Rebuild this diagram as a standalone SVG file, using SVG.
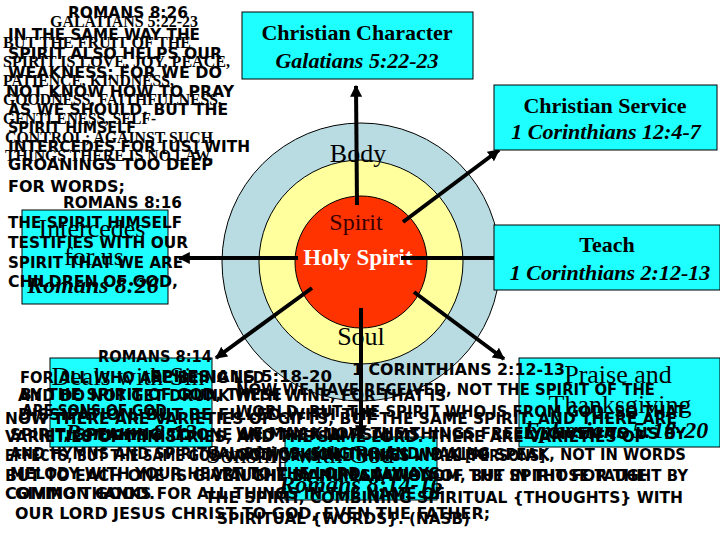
<svg xmlns="http://www.w3.org/2000/svg" width="720" height="540" viewBox="0 0 720 540">
<defs>
<marker id="ah" viewBox="0 0 10 10" refX="9" refY="5" markerWidth="3" markerHeight="3" orient="auto"><path d="M0,0 L10,5 L0,10 z" fill="#000"/></marker>
<style>
.box{fill:#1EFFFF;stroke:#000;stroke-width:1}
.bt{font-family:"Liberation Serif",serif;font-weight:bold;font-size:22px;text-anchor:middle}
.bi{font-family:"Liberation Serif",serif;font-weight:bold;font-style:italic;font-size:22px;text-anchor:middle}
.bs{font-family:"Liberation Serif",serif;font-size:26px;text-anchor:middle}
.bsi{font-family:"Liberation Serif",serif;font-weight:bold;font-style:italic;font-size:24px;text-anchor:middle}
.conn{stroke:#000;stroke-width:4;fill:none}
.cp{font-family:"DejaVu Sans",sans-serif;font-weight:bold;font-size:16px}
.gl{font-family:"Liberation Serif",serif;font-weight:bold;font-size:17px}
.ep{font-family:"DejaVu Sans",sans-serif;font-weight:bold;font-size:15px}
.c12{font-family:"DejaVu Sans",sans-serif;font-weight:bold;font-size:15px}
.c2{font-family:"DejaVu Sans",sans-serif;font-weight:bold;font-size:15px}
</style>
</defs>
<rect width="720" height="540" fill="#fff"/>

<g id="circles">
<circle cx="361" cy="262" r="139" fill="#B8DCE2" stroke="#000" stroke-width="1"/>
<circle cx="361" cy="262" r="102" fill="#FFFF9E" stroke="#000" stroke-width="1"/>
<circle cx="361" cy="262" r="66" fill="#FF3300" stroke="#000" stroke-width="1"/>
<text x="358" y="162" font-family="Liberation Serif, serif" font-size="26" text-anchor="middle">Body</text>
<text x="356" y="230" font-family="Liberation Serif, serif" font-size="24" fill="#3A0000" text-anchor="middle">Spirit</text>
<text x="358" y="265" font-family="Liberation Serif, serif" font-size="23" font-weight="bold" fill="#fff" text-anchor="middle">Holy Spirit</text>
<text x="361" y="345" font-family="Liberation Serif, serif" font-size="26" text-anchor="middle">Soul</text>
</g>

<g id="connectors">
<line class="conn" x1="357" y1="205" x2="356" y2="86" marker-end="url(#ah)"/>
<line class="conn" x1="403" y1="222" x2="499" y2="150" marker-end="url(#ah)"/>
<line class="conn" x1="401" y1="258" x2="495" y2="258"/>
<line class="conn" x1="414" y1="292" x2="504" y2="359" marker-end="url(#ah)"/>
<line class="conn" x1="361" y1="308" x2="361" y2="436" marker-end="url(#ah)"/>
<line class="conn" x1="312" y1="288" x2="216" y2="358" marker-end="url(#ah)"/>
<line class="conn" x1="298" y1="258" x2="179" y2="258" marker-end="url(#ah)"/>
</g>

<g id="character">
<rect x="242" y="12" width="231" height="67" class="box" stroke-width="3"/>
<text x="357" y="40" class="bt">Christian Character</text>
<text x="357" y="68" class="bi">Galatians 5:22-23</text>
</g>
<g id="service">
<rect x="494" y="85" width="223" height="65" class="box"/>
<text x="605" y="113" class="bt">Christian Service</text>
<text x="606" y="139" class="bi">1 Corinthians 12:4-7</text>
</g>
<g id="teach">
<rect x="494" y="225" width="226" height="65" class="box"/>
<text x="607" y="252" class="bt">Teach</text>
<text x="610" y="280" class="bi">1 Corinthians 2:12-13</text>
</g>
<g id="intercedes">
<rect x="22" y="210" width="146" height="94" class="box"/>
<text x="92" y="237" class="bs">Intercedes</text>
<text x="94" y="265" class="bs">for us</text>
<text x="93" y="293" class="bsi">Romans 8:26</text>
</g>
<g id="praise">
<rect x="519" y="358" width="201" height="89" class="box"/>
<text x="618" y="383" class="bs">Praise and</text>
<text x="620" y="413" class="bs">Thanksgiving</text>
<text x="616" y="438" class="bsi">Ephesians 5:18-20</text>
</g>
<g id="sin">
<rect x="50" y="358" width="162" height="89" class="box"/>
<text x="128" y="385" class="bs">Deals with Sin</text>
<text x="131" y="440" class="bsi">Romans 8:13</text>
</g>
<g id="sonship">
<rect x="285" y="437" width="152" height="63" class="box"/>
<text x="300" y="463" class="bs">Sonship with God</text>
<text x="361" y="492" class="bsi">Romans 8:14-16</text>
</g>

<g id="galatians-text">
<text class="gl" x="50" y="27" textLength="148" lengthAdjust="spacingAndGlyphs" font-size="14">GALATIANS 5:22-23</text>
<text class="gl" x="3" y="48" textLength="188" lengthAdjust="spacingAndGlyphs">BUT THE FRUIT OF THE</text>
<text class="gl" x="3" y="67" textLength="227" lengthAdjust="spacingAndGlyphs">SPIRIT IS LOVE, JOY, PEACE,</text>
<text class="gl" x="3" y="86" textLength="171" lengthAdjust="spacingAndGlyphs">PATIENCE, KINDNESS,</text>
<text class="gl" x="3" y="105" textLength="219" lengthAdjust="spacingAndGlyphs">GOODNESS, FAITHFULNESS,</text>
<text class="gl" x="3" y="124" textLength="153" lengthAdjust="spacingAndGlyphs">GENTLENESS, SELF-</text>
<text class="gl" x="5" y="143" textLength="208" lengthAdjust="spacingAndGlyphs">CONTROL; AGAINST SUCH</text>
<text class="gl" x="5" y="161" textLength="208" lengthAdjust="spacingAndGlyphs">THINGS THERE IS NO LAW.</text>
</g>

<g id="romans826-text">
<text class="cp" x="68" y="18" textLength="120" lengthAdjust="spacingAndGlyphs" font-size="14">ROMANS 8:26</text>
<text class="cp" x="8" y="40" textLength="192" lengthAdjust="spacingAndGlyphs">IN THE SAME WAY THE</text>
<text class="cp" x="8" y="59" textLength="214" lengthAdjust="spacingAndGlyphs">SPIRIT ALSO HELPS OUR</text>
<text class="cp" x="8" y="78" textLength="214" lengthAdjust="spacingAndGlyphs">WEAKNESS; FOR WE DO</text>
<text class="cp" x="6" y="97" textLength="228" lengthAdjust="spacingAndGlyphs">NOT KNOW HOW TO PRAY</text>
<text class="cp" x="8" y="115" textLength="220" lengthAdjust="spacingAndGlyphs">AS WE SHOULD, BUT THE</text>
<text class="cp" x="8" y="133" textLength="128" lengthAdjust="spacingAndGlyphs">SPIRIT HIMSELF</text>
<text class="cp" x="8" y="152" textLength="242" lengthAdjust="spacingAndGlyphs">INTERCEDES FOR [US] WITH</text>
<text class="cp" x="8" y="170" textLength="205" lengthAdjust="spacingAndGlyphs">GROANINGS TOO DEEP</text>
<text class="cp" x="8" y="192" textLength="117" lengthAdjust="spacingAndGlyphs">FOR WORDS;</text>
</g>

<g id="romans816-text">
<text class="cp" x="63" y="208" textLength="119" lengthAdjust="spacingAndGlyphs" font-size="14">ROMANS 8:16</text>
<text class="cp" x="8" y="228" textLength="174" lengthAdjust="spacingAndGlyphs">THE SPIRIT HIMSELF</text>
<text class="cp" x="8" y="248" textLength="180" lengthAdjust="spacingAndGlyphs">TESTIFIES WITH OUR</text>
<text class="cp" x="8" y="268" textLength="175" lengthAdjust="spacingAndGlyphs">SPIRIT THAT WE ARE</text>
<text class="cp" x="8" y="287" textLength="170" lengthAdjust="spacingAndGlyphs">CHILDREN OF GOD,</text>
</g>

<g id="romans814-text">
<text class="cp" x="98" y="362" textLength="114" lengthAdjust="spacingAndGlyphs" font-size="14">ROMANS 8:14</text>
<text class="cp" x="20" y="383" textLength="245" lengthAdjust="spacingAndGlyphs">FOR ALL WHO ARE BEING LED</text>
<text class="cp" x="20" y="400" textLength="262" lengthAdjust="spacingAndGlyphs">BY THE SPIRIT OF GOD, THESE</text>
<text class="cp" x="22" y="416" textLength="150" lengthAdjust="spacingAndGlyphs">ARE SONS OF GOD.</text>
</g>

<g id="ephesians-text">
<text class="ep" x="150" y="382" textLength="182" lengthAdjust="spacingAndGlyphs">EPHESIANS 5:18-20</text>
<text class="ep" x="18" y="401" textLength="428" lengthAdjust="spacingAndGlyphs">AND DO NOT GET DRUNK WITH WINE, FOR THAT IS</text>
<text class="ep" x="18" y="420" textLength="360" lengthAdjust="spacingAndGlyphs">DISSIPATION, BUT BE FILLED WITH THE</text>
<text class="ep" x="10" y="440" textLength="410" lengthAdjust="spacingAndGlyphs">SPIRIT, SPEAKING TO ONE ANOTHER IN PSALMS</text>
<text class="ep" x="10" y="459" textLength="480" lengthAdjust="spacingAndGlyphs">AND HYMNS AND SPIRITUAL SONGS, SINGING AND MAKING</text>
<text class="ep" x="10" y="479" textLength="430" lengthAdjust="spacingAndGlyphs">MELODY WITH YOUR HEART TO THE LORD; ALWAYS</text>
<text class="ep" x="15" y="499" textLength="430" lengthAdjust="spacingAndGlyphs">GIVING THANKS FOR ALL THINGS IN THE NAME OF</text>
<text class="ep" x="15" y="519" textLength="475" lengthAdjust="spacingAndGlyphs">OUR LORD JESUS CHRIST TO GOD, EVEN THE FATHER;</text>
</g>

<g id="cor12-text">
<text class="c12" x="5" y="424" textLength="672" lengthAdjust="spacingAndGlyphs">NOW THERE ARE VARIETIES OF GIFTS, BUT THE SAME SPIRIT. AND THERE ARE</text>
<text class="c12" x="5" y="442" textLength="640" lengthAdjust="spacingAndGlyphs">VARIETIES OF MINISTRIES, AND THE SAME LORD. THERE ARE VARIETIES OF</text>
<text class="c12" x="5" y="461" textLength="545" lengthAdjust="spacingAndGlyphs">EFFECTS, BUT THE SAME GOD WHO WORKS ALL THINGS IN ALL [PERSONS].</text>
<text class="c12" x="5" y="481" textLength="642" lengthAdjust="spacingAndGlyphs">BUT TO EACH ONE IS GIVEN THE MANIFESTATION OF THE SPIRIT FOR THE</text>
<text class="c12" x="5" y="499" textLength="150" lengthAdjust="spacingAndGlyphs">COMMON GOOD.</text>
</g>

<g id="cor2-text">
<text class="c2" x="352" y="375" textLength="213" lengthAdjust="spacingAndGlyphs" font-size="16">1 CORINTHIANS 2:12-13</text>
<text class="c2" x="236" y="395" textLength="419" lengthAdjust="spacingAndGlyphs">NOW WE HAVE RECEIVED, NOT THE SPIRIT OF THE</text>
<text class="c2" x="236" y="417" textLength="450" lengthAdjust="spacingAndGlyphs">WORLD, BUT THE SPIRIT WHO IS FROM GOD, SO THAT</text>
<text class="c2" x="236" y="439" textLength="450" lengthAdjust="spacingAndGlyphs">WE MAY KNOW THE THINGS FREELY GIVEN TO US BY</text>
<text class="c2" x="236" y="460" textLength="450" lengthAdjust="spacingAndGlyphs">GOD, WHICH THINGS WE ALSO SPEAK, NOT IN WORDS</text>
<text class="c2" x="220" y="481" textLength="468" lengthAdjust="spacingAndGlyphs">TAUGHT BY HUMAN WISDOM, BUT IN THOSE TAUGHT BY</text>
<text class="c2" x="205" y="503" textLength="478" lengthAdjust="spacingAndGlyphs">THE SPIRIT, COMBINING SPIRITUAL {THOUGHTS} WITH</text>
<text class="c2" x="217" y="524" textLength="253" lengthAdjust="spacingAndGlyphs">SPIRITUAL {WORDS}. (NASB)</text>
</g>
</svg>
